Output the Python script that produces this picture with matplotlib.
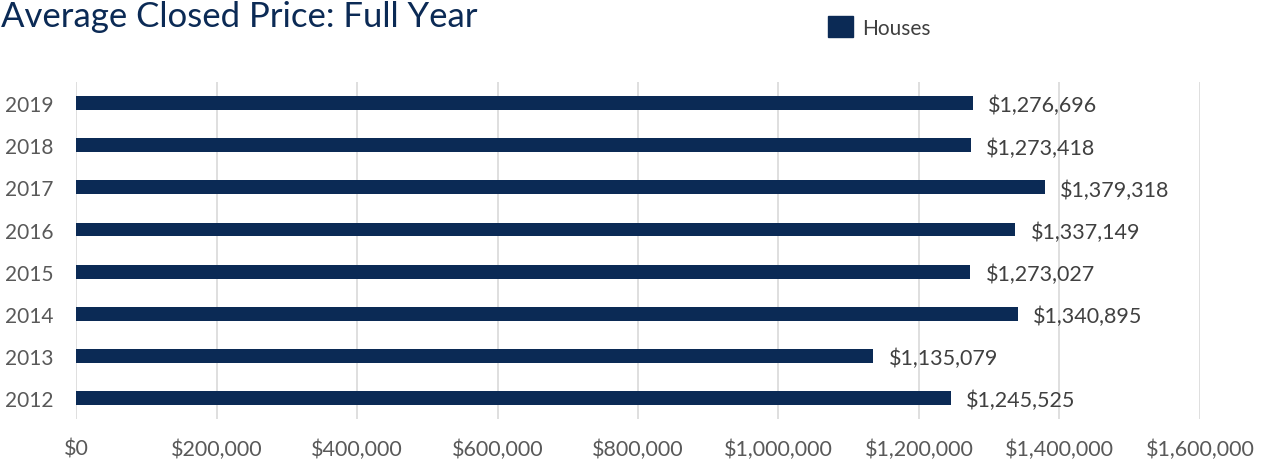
import matplotlib
matplotlib.use("Agg")
import matplotlib.pyplot as plt
from matplotlib.patches import Patch

years = ["2012", "2013", "2014", "2015", "2016", "2017", "2018", "2019"]
prices = [1245525, 1135079, 1340895, 1273027, 1337149, 1379318, 1273418, 1276696]
xticks = [0, 200000, 400000, 600000, 800000, 1000000, 1200000, 1400000, 1600000]

navy = "#0b2a55"
gray = "#595959"

plt.rcParams["font.family"] = ["Lato", "DejaVu Sans"]

fig = plt.figure(figsize=(12.61, 4.64), dpi=100)
ax = fig.add_axes([0.0603, 0.0948, 0.8913, 0.726])

ypos = range(len(years))
ax.barh(ypos, prices, height=0.33, color=navy, zorder=3)

for y, v in zip(ypos, prices):
    ax.text(v + 22000, y - 0.05, "${:,}".format(v), va="center", ha="left",
            fontsize=15.5, color="#404040", zorder=4)

ax.set_xlim(0, 1600000)
ax.set_ylim(-0.5, len(years) - 0.5)
ax.set_xticks(xticks)
ax.set_xticklabels(["${:,}".format(t) for t in xticks])
ax.set_yticks(list(ypos))
ax.set_yticklabels(years)
ax.tick_params(axis="both", length=0, labelsize=15.5, labelcolor=gray)
ax.tick_params(axis="x", pad=14)
ax.tick_params(axis="y", pad=16, labelsize=15)
ax.grid(axis="x", color="#d9d9d9", linewidth=1.2, zorder=0)
for s in ax.spines.values():
    s.set_visible(False)

fig.text(0.001, 0.963, "Average Closed Price: Full Year", fontsize=25,
         color=navy, va="center", ha="left")

fig.legend(handles=[Patch(color=navy, label="Houses")], loc="center left",
           bbox_to_anchor=(0.642, 0.94), frameon=False, fontsize=15,
           handlelength=1.2, handleheight=1.2, handletextpad=0.4,
           labelcolor="#404040")

fig.savefig("out.png", dpi=100)
